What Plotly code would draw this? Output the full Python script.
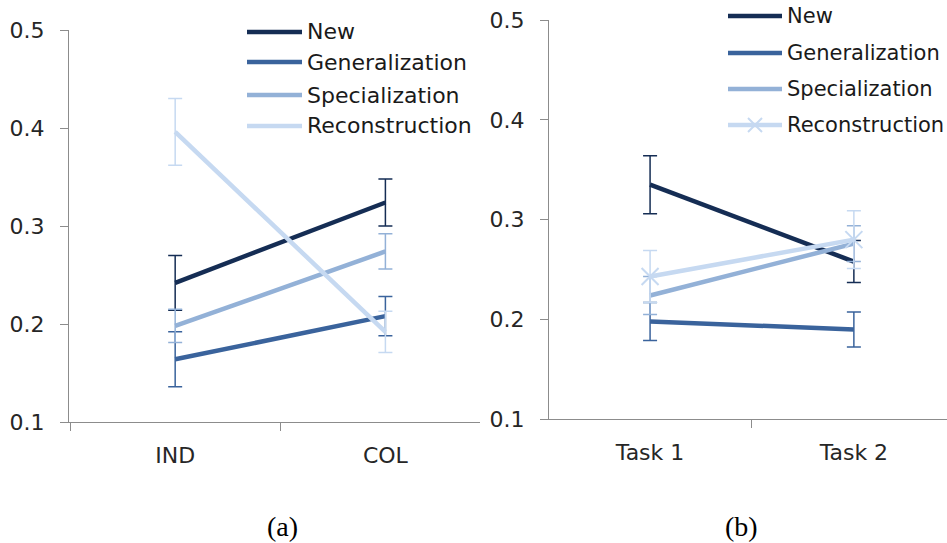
import plotly.graph_objects as go

W, H = 947, 543

# Series names and colours
series = ["New", "Generalization", "Specialization", "Reconstruction"]
colors = ["#152d54", "#3a639c", "#93b1d7", "#c6d9f1"]

# Panel (a): IND vs COL
groups_a = ["IND", "COL"]
new_a = [0.242, 0.324]
new_a_err = [0.028, 0.024]
gen_a = [0.164, 0.208]
gen_a_err = [0.028, 0.020]
spec_a = [0.198, 0.274]
spec_a_err = [0.017, 0.018]
rec_a = [0.396, 0.192]
rec_a_err = [0.034, 0.021]

# Panel (b): Task 1 vs Task 2
groups_b = ["Task 1", "Task 2"]
new_b = [0.335, 0.258]
new_b_err = [0.029, 0.021]
gen_b = [0.198, 0.190]
gen_b_err = [0.019, 0.0175]
spec_b = [0.224, 0.276]
spec_b_err = [0.019, 0.018]
rec_b = [0.243, 0.280]
rec_b_err = [0.026, 0.029]

y_ticks = [0.1, 0.2, 0.3, 0.4, 0.5]
y_ticktext = ["0.1", "0.2", "0.3", "0.4", "0.5"]

FONT = "DejaVu Sans"
FS = 22


def px_x(x):
    return x / W


def px_y(y):
    return 1 - y / H


fig = go.Figure()

panel_a = [(new_a, new_a_err), (gen_a, gen_a_err), (spec_a, spec_a_err), (rec_a, rec_a_err)]
panel_b = [(new_b, new_b_err), (gen_b, gen_b_err), (spec_b, spec_b_err), (rec_b, rec_b_err)]

for name, col, (vals, errs) in zip(series, colors, panel_a):
    fig.add_trace(go.Scatter(
        x=groups_a, y=vals, name=name, mode="lines",
        line=dict(color=col, width=4.5),
        error_y=dict(type="data", array=errs, visible=True, color=col, thickness=1.5, width=7),
        xaxis="x", yaxis="y", showlegend=False,
    ))

for name, col, (vals, errs) in zip(series, colors, panel_b):
    is_rec = name == "Reconstruction"
    fig.add_trace(go.Scatter(
        x=groups_b, y=vals, name=name, mode="lines+markers" if is_rec else "lines",
        line=dict(color=col, width=4.5),
        marker=dict(symbol="x-thin", size=17, color=col, line=dict(color=col, width=2)),
        error_y=dict(type="data", array=errs, visible=True, color=col, thickness=1.5, width=7),
        xaxis="x2", yaxis="y2", showlegend=False,
    ))

axis_line = "#8c8c8c"
common_x = dict(
    type="category", showgrid=False, zeroline=False, showline=True, linecolor=axis_line,
    linewidth=1.3, ticks="outside", ticklen=8, tickcolor=axis_line, tickson="boundaries",
    tickfont=dict(family=FONT, size=FS, color="#262626"), ticklabelstandoff=13,
    automargin=False,
)
common_y = dict(
    range=[0.1, 0.5], tickvals=y_ticks, ticktext=y_ticktext, showgrid=False, zeroline=False,
    showline=True, linecolor=axis_line, linewidth=1.3, ticks="outside", ticklen=8,
    tickcolor=axis_line, tickfont=dict(family=FONT, size=FS, color="#262626"),
    ticklabelstandoff=11, automargin=False,
)

fig.update_layout(
    width=W, height=H,
    margin=dict(l=0, r=0, t=0, b=0, pad=0, autoexpand=False),
    showlegend=False,
    paper_bgcolor="white", plot_bgcolor="white",
    xaxis=dict(common_x, domain=[px_x(69), px_x(480)], range=[-0.505, 1.45], anchor="y"),
    yaxis=dict(common_y, domain=[px_y(422), px_y(30)], anchor="x"),
    xaxis2=dict(common_x, domain=[px_x(549), 1.0], range=[-0.496, 1.457], anchor="y2"),
    yaxis2=dict(common_y, domain=[px_y(419.3), px_y(20)], anchor="x2"),
)

# Legend keys and labels for each panel
shapes = []
annotations = []
legend_a = dict(rows=[32, 62, 95, 126], x0=247, x1=302, tx=305, fs=FS, marker=False)
legend_b = dict(rows=[16, 53, 89, 125], x0=728, x1=782, tx=785, fs=21, marker=True)
for leg in (legend_a, legend_b):
    for name, col, ry in zip(series, colors, leg["rows"]):
        shapes.append(dict(type="line", xref="paper", yref="paper",
                           x0=px_x(leg["x0"]), x1=px_x(leg["x1"]), y0=px_y(ry), y1=px_y(ry),
                           line=dict(color=col, width=4.5)))
        if leg["marker"] and name == "Reconstruction":
            cx = (leg["x0"] + leg["x1"]) / 2
            for dy in (-7, 7):
                shapes.append(dict(type="line", xref="paper", yref="paper",
                                   x0=px_x(cx - 7), x1=px_x(cx + 7),
                                   y0=px_y(ry - dy), y1=px_y(ry + dy),
                                   line=dict(color=col, width=2)))
        annotations.append(dict(xref="paper", yref="paper", x=px_x(leg["tx"]), y=px_y(ry),
                                xanchor="left", yanchor="middle", showarrow=False, text=name,
                                font=dict(family=FONT, size=leg["fs"], color="#1a1a1a")))

for label, cx in (("(a)", 282), ("(b)", 741)):
    annotations.append(dict(xref="paper", yref="paper", x=px_x(cx), y=px_y(526),
                            xanchor="center", yanchor="middle", showarrow=False, text=label,
                            font=dict(family="Liberation Serif", size=28, color="black")))

fig.update_layout(shapes=shapes, annotations=annotations)

fig.write_html("out.html")
